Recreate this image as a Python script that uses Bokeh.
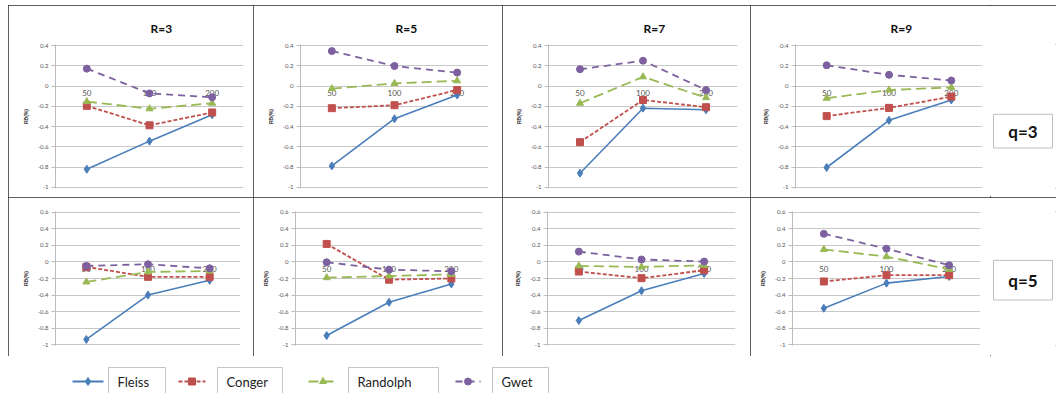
from bokeh.plotting import figure
from bokeh.layouts import row, column
from bokeh.models import Range1d, FactorRange, FixedTicker, ColumnDataSource, Spacer
from bokeh.core.properties import value
from bokeh.embed import file_html
from bokeh.resources import INLINE

# ---------------- data ----------------
categories = ["50", "100", "200"]
r_titles = ["R=3", "R=5", "R=7", "R=9"]
q_labels = ["q=3", "q=5"]
series_names = ["Fleiss", "Conger", "Randolph", "Gwet"]
y_label = "RB(%)"

# each list: one row per R (3, 5, 7, 9), values at n = 50, 100, 200
fleiss_q3 = [[-0.82, -0.543, -0.283], [-0.787, -0.322, -0.088], [-0.859, -0.218, -0.234], [-0.803, -0.338, -0.137]]
conger_q3 = [[-0.195, -0.387, -0.26], [-0.218, -0.189, -0.039], [-0.553, -0.137, -0.208], [-0.296, -0.215, -0.104]]
randolph_q3 = [[-0.153, -0.224, -0.169], [-0.026, 0.026, 0.052], [-0.169, 0.091, -0.114], [-0.12, -0.039, -0.013]]
gwet_q3 = [[0.172, -0.072, -0.11], [0.345, 0.198, 0.133], [0.166, 0.25, -0.039], [0.205, 0.111, 0.055]]

fleiss_q5 = [[-0.937, -0.40, -0.222], [-0.89, -0.488, -0.266], [-0.708, -0.348, -0.14], [-0.56, -0.256, -0.176]]
conger_q5 = [[-0.06, -0.18, -0.18], [0.218, -0.214, -0.20], [-0.116, -0.196, -0.10], [-0.236, -0.16, -0.16]]
randolph_q5 = [[-0.242, -0.121, -0.109], [-0.19, -0.17, -0.15], [-0.048, -0.06, -0.04], [0.152, 0.064, -0.088]]
gwet_q5 = [[-0.048, -0.028, -0.077], [-0.004, -0.093, -0.113], [0.125, 0.03, 0.005], [0.34, 0.16, -0.04]]

yticks_q3 = [0.4, 0.2, 0, -0.2, -0.4, -0.6, -0.8, -1]
ytick_labels_q3 = ["0.4", "0.2", "0", "-0.2", "-0.4", "-0.6", "-0.8", "-1"]
yticks_q5 = [0.6, 0.4, 0.2, 0, -0.2, -0.4, -0.6, -0.8, -1]
ytick_labels_q5 = ["0.6", "0.4", "0.2", "0", "-0.2", "-0.4", "-0.6", "-0.8", "-1"]

# ---------------- styles ----------------
colors = ["#4A7EBB", "#C0504D", "#98B954", "#7D60A0"]
dashes = ["solid", "4 2", "10 5", "7 5"]
markers = ["diamond", "square", "triangle", "circle"]
msizes = [8, 7, 7, 7]
lwidths = [1.6, 1.8, 1.8, 1.8]
FONT = "Lato"
BORDER = {"outline": "1px solid #2a2a2a", "outline-offset": "-1px"}

top_widths = [245, 249, 248, 240]
top_left = [47, 47, 46, 45]
top_right = [10, 14, 13, 8]
bot_widths = [245, 249, 248, 240]
bot_left = [47, 42, 45, 42]
bot_right = [13, 20, 15, 10]
TOP_H, BOT_H, LEG_H, Q_W = 192, 159, 37, 66


def panel(series_vals, width, height, left, right, top, bottom, yr, ticks, labels, title=None):
    p = figure(width=width, height=height, x_range=FactorRange(*categories),
               y_range=Range1d(*yr), output_backend="svg", toolbar_location=None,
               min_border_left=left, min_border_right=right,
               min_border_top=top, min_border_bottom=bottom,
               styles=BORDER, title=title)
    p.background_fill_color = "white"
    p.border_fill_color = "white"
    p.outline_line_color = None
    if title:
        p.title.text_font = FONT
        p.title.text_font_size = "12px"
        p.title.text_font_style = "bold"
        p.title.text_color = "#111"
        p.title.align = "left"
        p.title.offset = 95
        p.title.standoff = 17
    p.xaxis.visible = False
    p.xgrid.grid_line_color = None
    p.ygrid.grid_line_color = "#c8c8c8"
    p.ygrid.ticker = FixedTicker(ticks=ticks)
    ax = p.yaxis[0]
    ax.ticker = FixedTicker(ticks=ticks)
    ax.major_label_overrides = {t: l for t, l in zip(ticks, labels)}
    ax.major_label_text_font_size = "6px"
    ax.major_label_text_color = "#555"
    ax.major_label_text_font = FONT
    ax.axis_line_color = "#bbbbbb"
    ax.major_tick_line_color = "#bbbbbb"
    ax.major_tick_out = 4
    ax.major_tick_in = 0
    ax.minor_tick_line_color = None
    ax.major_label_standoff = 3
    ax.axis_label = y_label
    ax.axis_label_text_font_size = "5px"
    ax.axis_label_text_font_style = "bold"
    ax.axis_label_text_color = "#333"
    ax.axis_label_standoff = 6
    # category labels next to the zero line
    p.text(x=categories, y=[0, 0, 0], text=categories, text_font=value(FONT),
           text_font_size="8px", text_color="#555", text_align="center",
           text_baseline="top", y_offset=4)
    for vals, c, d, m, s, lw in zip(series_vals, colors, dashes, markers, msizes, lwidths):
        src = ColumnDataSource(dict(x=categories, y=vals))
        p.line("x", "y", source=src, line_color=c, line_dash=d, line_width=lw)
        p.scatter("x", "y", source=src, marker=m, size=s, fill_color=c, line_color=c)
    return p


def qbox(label, height, box_top, box_bottom):
    p = figure(width=Q_W, height=height, x_range=Range1d(0, Q_W), y_range=Range1d(height, 0),
               output_backend="svg", toolbar_location=None, min_border=0)
    p.axis.visible = False
    p.grid.grid_line_color = None
    p.outline_line_color = None
    p.border_fill_color = "white"
    p.quad(left=[3], right=[62], top=[box_top], bottom=[box_bottom],
           fill_color="white", line_color="#bdbdbd", line_width=1)
    p.text(x=[32.5], y=[(box_top + box_bottom) / 2], text=[label], text_font=value(FONT),
           text_font_size="17px", text_font_style="bold", text_color="#111",
           text_align="center", text_baseline="middle")
    return p


all_q3 = [fleiss_q3, conger_q3, randolph_q3, gwet_q3]
all_q5 = [fleiss_q5, conger_q5, randolph_q5, gwet_q5]

top_figs = []
bot_figs = []
for i in range(4):
    top_figs.append(panel([s[i] for s in all_q3], top_widths[i], TOP_H, top_left[i], top_right[i],
                          39, 9, (-1.01, 0.41), yticks_q3, ytick_labels_q3, title=r_titles[i]))
    bot_figs.append(panel([s[i] for s in all_q5], bot_widths[i], BOT_H, bot_left[i], bot_right[i],
                          14, 11, (-1.01, 0.61), yticks_q5, ytick_labels_q5))

for f in (top_figs[3], bot_figs[3]):
    f.styles = {}

q3 = qbox(q_labels[0], TOP_H, 93, 138)
q5 = qbox(q_labels[1], BOT_H, 58, 105)

top_row = row(Spacer(width=8, height=TOP_H), top_figs[0], top_figs[1], top_figs[2],
              row(top_figs[3], q3, styles=BORDER))
bot_row = row(Spacer(width=8, height=BOT_H), bot_figs[0], bot_figs[1], bot_figs[2],
              row(bot_figs[3], q5, styles=BORDER))

# ---------------- legend ----------------
leg = figure(width=1056, height=LEG_H, x_range=Range1d(0, 1056), y_range=Range1d(LEG_H, 0),
             output_backend="svg", toolbar_location=None, min_border=0)
leg.axis.visible = False
leg.grid.grid_line_color = None
leg.outline_line_color = None
sample_x0 = [72, 178, 308, 455]
sample_x1 = [103, 205, 337, 480]
box_x0 = [108, 217, 348, 492]
box_x1 = [165, 282, 438, 548]
LY = 25
for i, name in enumerate(series_names):
    leg.line([sample_x0[i], sample_x1[i]], [LY, LY], line_color=colors[i], line_dash=dashes[i],
             line_width=2)
    leg.scatter([(sample_x0[i] + sample_x1[i]) / 2], [LY], marker=markers[i], size=msizes[i],
                fill_color=colors[i], line_color=colors[i])
    leg.quad(left=[box_x0[i]], right=[box_x1[i]], top=[11], bottom=[LEG_H + 3], fill_color="white",
             line_color="#c4c4c4")
    leg.text(x=[box_x0[i] + 9], y=[LY], text=[name], text_font=value(FONT), text_font_size="13px",
             text_color="#222", text_baseline="middle", text_align="left")

layout = column(Spacer(width=1056, height=5), top_row, bot_row, leg)
open("out.html", "w").write(file_html(layout, INLINE))
